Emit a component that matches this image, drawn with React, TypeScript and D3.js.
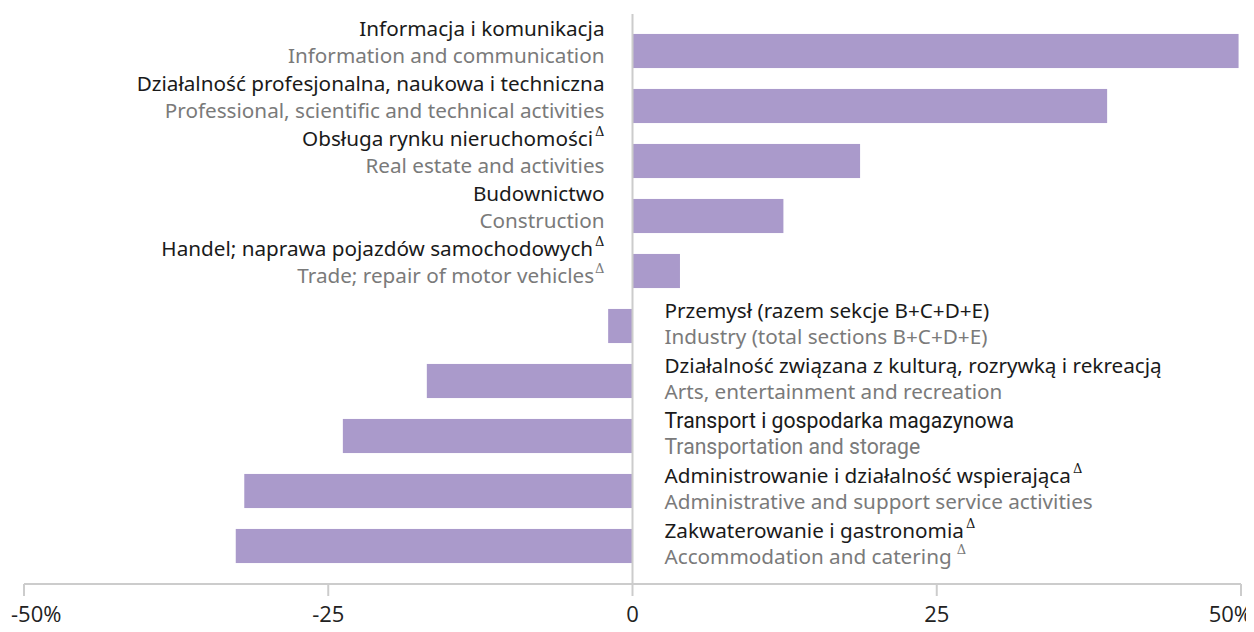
import React, { useEffect, useRef } from "react";
import * as d3 from "d3";

// Sectors (Polish / English), change in %
const labelsPl = [
  "Informacja i komunikacja",
  "Działalność profesjonalna, naukowa i techniczna",
  "Obsługa rynku nieruchomości",
  "Budownictwo",
  "Handel; naprawa pojazdów samochodowych",
  "Przemysł (razem sekcje B+C+D+E)",
  "Działalność związana z kulturą, rozrywką i rekreacją",
  "Transport i gospodarka magazynowa",
  "Administrowanie i działalność wspierająca",
  "Zakwaterowanie i gastronomia",
];
const labelsEn = [
  "Information and communication",
  "Professional, scientific and technical activities",
  "Real estate and activities",
  "Construction",
  "Trade; repair of motor vehicles",
  "Industry (total sections B+C+D+E)",
  "Arts, entertainment and recreation",
  "Transportation and storage",
  "Administrative and support service activities",
  "Accommodation and catering",
];
const values = [49.8, 39.0, 18.7, 12.4, 3.9, -2.0, -16.9, -23.8, -31.9, -32.6];
const deltaPl = [false, false, true, false, true, false, false, false, true, true];
const deltaEn = [false, false, false, false, true, false, false, false, false, true];
const tickValues = [-50, -25, 0, 25, 50];
const tickLabels = ["-50%", "-25", "0", "25", "50%"];

const WIDTH = 1254;
const HEIGHT = 632;

const Chart: React.FC = () => {
  const svgRef = useRef<SVGSVGElement | null>(null);

  useEffect(() => {
    const svg = d3.select(svgRef.current);
    svg.selectAll("*").remove();

    const x = d3.scaleLinear().domain([-50, 50]).range([24, 1241]);
    const y = d3
      .scaleBand<number>()
      .domain(d3.range(values.length))
      .range([23.5, 573.5])
      .paddingInner(0.38)
      .paddingOuter(0.19);

    const barColor = "#aa9acb";
    const x0 = x(0);

    // bars
    svg
      .append("g")
      .selectAll("rect")
      .data(values)
      .join("rect")
      .attr("x", (d) => Math.min(x(d), x0))
      .attr("y", (_, i) => y(i)!)
      .attr("width", (d) => Math.abs(x(d) - x0))
      .attr("height", y.bandwidth())
      .attr("fill", barColor);

    // zero line
    svg
      .append("line")
      .attr("x1", x0)
      .attr("x2", x0)
      .attr("y1", 14)
      .attr("y2", 584)
      .attr("stroke", "#cccccc")
      .attr("stroke-width", 2);

    // x axis
    const axis = svg.append("g").attr("transform", "translate(0,584)");
    axis
      .append("line")
      .attr("x1", x(-50))
      .attr("x2", x(50))
      .attr("stroke", "#cccccc")
      .attr("stroke-width", 2);
    axis
      .selectAll("line.tick")
      .data(tickValues)
      .join("line")
      .attr("class", "tick")
      .attr("x1", (d) => x(d))
      .attr("x2", (d) => x(d))
      .attr("y1", 0)
      .attr("y2", 12)
      .attr("stroke", "#cccccc")
      .attr("stroke-width", 2);
    const last = tickValues.length - 1;
    axis
      .selectAll("text")
      .data(tickValues)
      .join("text")
      .attr("x", (d, i) => (i === 0 ? 11 : i === last ? 1252 : x(d)))
      .attr("y", 38)
      .attr("text-anchor", (_, i) => (i === 0 ? "start" : i === last ? "end" : "middle"))
      .attr("font-family", "'Open Sans', sans-serif")
      .attr("font-size", 22)
      .attr("fill", "#222")
      .text((_, i) => tickLabels[i]);

    // category labels
    const labels = svg.append("g");
    values.forEach((v, i) => {
      const cy = y(i)! + y.bandwidth() / 2;
      const pos = v >= 0;
      const lx = pos ? x0 - 28 : x0 + 32;
      const anchor = pos ? "end" : "start";
      const isArial = i === 7;
      const family = isArial ? "Roboto, 'Liberation Sans', sans-serif" : "'Noto Sans', sans-serif";
      const size = isArial ? 21.2 : 20.7;

      const pl = labels
        .append("text")
        .attr("x", lx)
        .attr("y", cy + (pos ? -15 : -8))
        .attr("text-anchor", anchor)
        .attr("font-family", family)
        .attr("font-size", size)
        .attr("fill", "#1a1a1a");
      pl.append("tspan").text(labelsPl[i]);
      if (deltaPl[i]) {
        pl.append("tspan").attr("dy", -10).attr("dx", 2).attr("font-size", 13).attr("font-family", "'DejaVu Serif', serif").text("Δ");
      }

      const en = labels
        .append("text")
        .attr("x", lx)
        .attr("y", cy + (pos ? 12 : 18))
        .attr("text-anchor", anchor)
        .attr("font-family", family)
        .attr("font-size", size)
        .attr("fill", "#7a7a7a");
      en.append("tspan").text(labelsEn[i]);
      if (deltaEn[i]) {
        en.append("tspan").attr("dy", -10).attr("dx", i === 9 ? 5 : 1).attr("font-size", 13).attr("font-family", "'DejaVu Serif', serif").text("Δ");
      }
    });
  }, []);

  return <svg ref={svgRef} width={WIDTH} height={HEIGHT} style={{ display: "block" }} />;
};

export default function App() {
  return (
    <div style={{ margin: -8, background: "#fff" }}>
      <Chart />
    </div>
  );
}
